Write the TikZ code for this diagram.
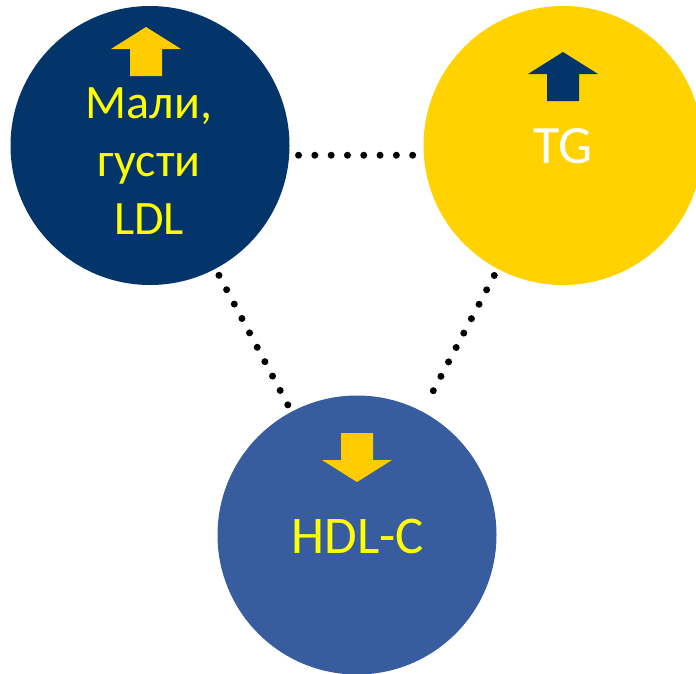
\documentclass[tikz,border=0pt]{standalone}
\usepackage{fontspec}
\usepackage{tikz}
\setmainfont{Carlito}
\usetikzlibrary{positioning}
\usetikzlibrary{calc}
\definecolor{mnavy}{HTML}{03356A}
\definecolor{msun}{HTML}{FFD200}
\definecolor{mblue}{HTML}{375D9F}
\definecolor{mgold}{HTML}{FFCC00}
\definecolor{mtext}{HTML}{FFFF00}

\tikzset{
  blob/.style={circle, minimum size=279pt, inner sep=0pt, outer sep=0pt},
  dotline/.style={line width=7pt, line cap=round, dash pattern=on 0pt off 16.3pt},
  bigtxt/.style={inner sep=0pt, align=center, font=\fontsize{48}{58}\selectfont},
  updart/.pic={\fill (0, 0) -- (35, 22) -- (16, 22) -- (16, 49) -- (-16, 49) -- (-16, 22) -- (-35, 22) -- cycle;}
}

\begin{document}
\begin{tikzpicture}[x=1pt, y=-1pt]
    \useasboundingbox (0, 0) rectangle (696, 673);

    \node [blob, fill=mnavy] (ldl) at (150, 145.5) {};

    \node [blob, fill=msun] (tg) at (563, 145.5) {};

    \node [blob, fill=mblue] (hdl) at (357, 535) {};

    \draw [dotline, shorten <=9.4pt, shorten >=9.4pt] (ldl.-4.5) -- (tg.184.5);

    \draw [dotline, shorten <=7.5pt, shorten >=7.5pt] (ldl) -- (hdl);

    \draw [dotline, shorten <=7.5pt, shorten >=7.5pt] (tg) -- (hdl);

    \pic [color=mgold] at (146, 27) {updart};

    \pic [color=mnavy] at (563, 52) {updart};

    \pic [color=mgold, yscale=-1] at (357, 482) {updart};

    \node [bigtxt, text=mtext] (ldltxt) at (149, 161) {Мали,\\густи\\LDL};

    \node [bigtxt, text=white, anchor=base, font=\fontsize{54}{60}\selectfont] (tgtxt) at (563, 163) {TG};

    \node [bigtxt, text=mtext, anchor=base, font=\fontsize{53}{60}\selectfont] (hdltxt) at (358, 553) {HDL-C};
  \end{tikzpicture}
\end{document}
